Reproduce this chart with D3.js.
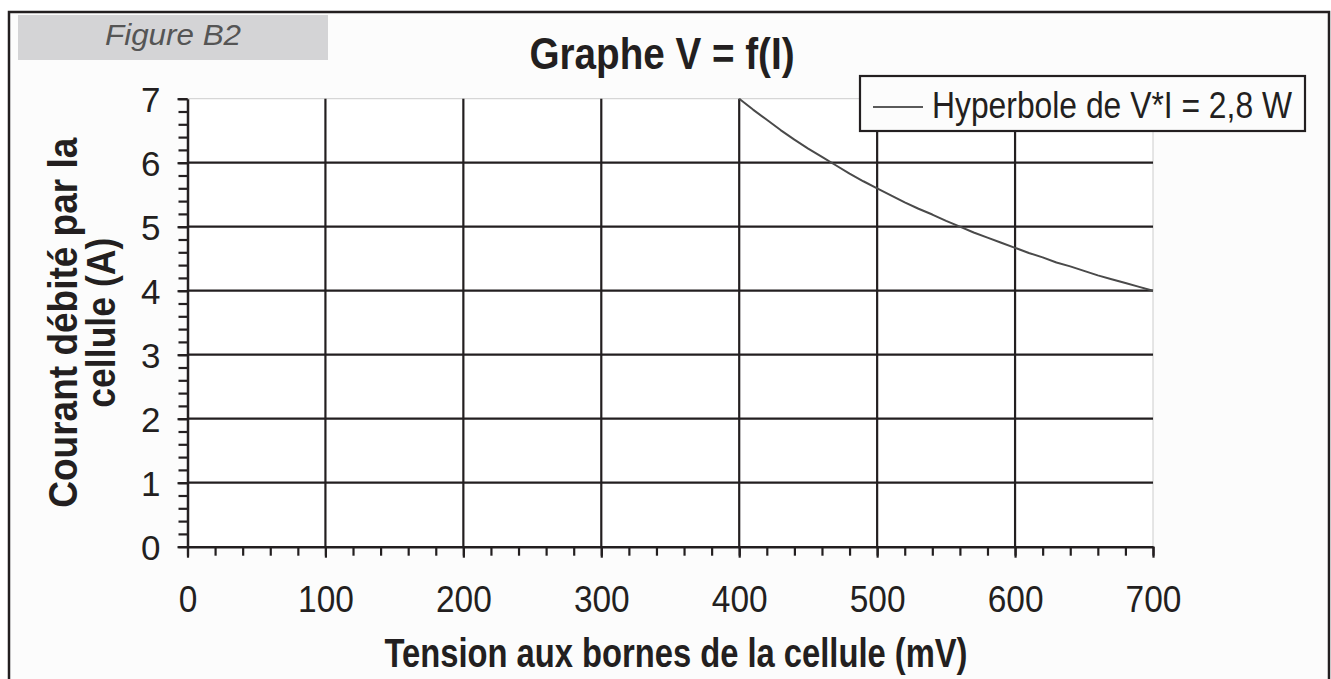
<!DOCTYPE html>
<html>
<head>
<meta charset="utf-8">
<script src="https://cdn.jsdelivr.net/npm/d3@7"></script>
<style>
  html, body { margin: 0; padding: 0; background: #ffffff; }
  svg { display: block; font-family: "Liberation Sans", Arial, Helvetica, sans-serif; }
</style>
</head>
<body>
<svg id="chart" width="1331" height="679"></svg>
<script>
// ---- data ----
const voltage_mV = [400, 410, 420, 430, 440, 450, 460, 470, 480, 490, 500,
                    510, 520, 530, 540, 550, 560, 570, 580, 590, 600,
                    610, 620, 630, 640, 650, 660, 670, 680, 690, 700];
const current_A = [7.00, 6.83, 6.67, 6.51, 6.36, 6.22, 6.09, 5.96, 5.83, 5.71, 5.60,
                   5.49, 5.38, 5.28, 5.19, 5.09, 5.00, 4.91, 4.83, 4.75, 4.67,
                   4.59, 4.52, 4.44, 4.38, 4.31, 4.24, 4.18, 4.12, 4.06, 4.00];
const xTicks = [0, 100, 200, 300, 400, 500, 600, 700];
const yTicks = [0, 1, 2, 3, 4, 5, 6, 7];
const xMinorTicks = d3.range(0, 701, 20);
const yMinorTicks = d3.range(0, 7.001, 0.2).map(v => +v.toFixed(1));
const figureLabel = "Figure B2";
const chartTitle = "Graphe V = f(I)";
const xTitle = "Tension aux bornes de la cellule (mV)";
const yTitleLines = ["Courant  débité par la", "cellule (A)"];
const seriesName = "Hyperbole de V*I = 2,8 W";

(function () {
// ---- layout ----
const svg = d3.select("#chart");
const ink = "#231f20";
const pL = 187.5, pR = 1153, pT = 98.7, pB = 546.7;

const x = d3.scaleLinear().domain([0, 700]).range([pL, pR]);
const y = d3.scaleLinear().domain([0, 7]).range([pB, pT]);

// outer frame
svg.append("rect").attr("x", 9).attr("y", 12).attr("width", 1320).attr("height", 700)
  .attr("fill", "#fcfcfc").attr("stroke", ink).attr("stroke-width", 2.5);

// figure label box
svg.append("rect").attr("x", 18).attr("y", 15).attr("width", 310).attr("height", 45)
  .attr("fill", "#d4d4d6");
svg.append("text").attr("x", 105).attr("y", 45)
  .attr("font-size", 29).attr("font-style", "italic").attr("fill", "#555555")
  .attr("textLength", 136).attr("lengthAdjust", "spacingAndGlyphs")
  .text(figureLabel);

// title
svg.append("text").attr("x", 662).attr("y", 69).attr("text-anchor", "middle")
  .attr("font-size", 44).attr("font-weight", "bold").attr("fill", ink)
  .attr("textLength", 265).attr("lengthAdjust", "spacingAndGlyphs")
  .text(chartTitle);

// plot background + light border
svg.append("rect").attr("x", pL).attr("y", pT).attr("width", pR - pL).attr("height", pB - pT)
  .attr("fill", "#ffffff").attr("stroke", "#cccccc").attr("stroke-width", 1);

// gridlines
const grid = svg.append("g");
grid.selectAll("line.h").data(yTicks.filter(d => d > 0 && d < 7)).join("line")
  .attr("class", "h")
  .attr("x1", pL).attr("x2", pR)
  .attr("y1", d => y(d)).attr("y2", d => y(d))
  .attr("stroke", ink).attr("stroke-width", 2.2);
grid.selectAll("line.v").data(xTicks.filter(d => d > 0 && d < 700)).join("line")
  .attr("class", "v")
  .attr("x1", d => x(d)).attr("x2", d => x(d))
  .attr("y1", pT).attr("y2", pB)
  .attr("stroke", ink).attr("stroke-width", 2.2);

// minor ticks
const xMinor = svg.append("g").attr("transform", `translate(0,${pB})`)
  .call(d3.axisBottom(x).tickValues(xMinorTicks).tickSize(9).tickFormat(""));
const yMinor = svg.append("g").attr("transform", `translate(${pL},0)`)
  .call(d3.axisLeft(y).tickValues(yMinorTicks).tickSize(9).tickFormat(""));

// major axes
const xAxis = svg.append("g").attr("transform", `translate(0,${pB})`)
  .call(d3.axisBottom(x).tickValues(xTicks).tickSize(11).tickSizeOuter(0).tickFormat(d3.format("d")));
const yAxis = svg.append("g").attr("transform", `translate(${pL},0)`)
  .call(d3.axisLeft(y).tickValues(yTicks).tickSize(10).tickSizeOuter(0).tickFormat(d3.format("d")));

[xMinor, yMinor, xAxis, yAxis].forEach(g => {
  g.selectAll("path.domain").attr("stroke", ink).attr("stroke-width", 2.5);
  g.selectAll(".tick line").attr("stroke", ink).attr("stroke-width", 2.2);
});
xMinor.selectAll("path.domain").remove();
yMinor.selectAll("path.domain").remove();

xAxis.selectAll(".tick text")
  .attr("y", 65).attr("dy", 0).attr("font-size", 37).attr("fill", ink)
  .attr("font-family", "'Liberation Sans', Arial, sans-serif")
  .each(function (d) {
    const s = String(d);
    d3.select(this).attr("textLength", s.length * 18.6).attr("lengthAdjust", "spacingAndGlyphs");
  });
yAxis.selectAll(".tick text")
  .attr("x", -27).attr("dy", 12.5).attr("font-size", 35).attr("fill", ink)
  .attr("font-family", "'Liberation Sans', Arial, sans-serif");

// curve
const line = d3.line().x((d, i) => x(voltage_mV[i])).y(d => y(d));
svg.append("path").datum(current_A)
  .attr("d", line).attr("fill", "none")
  .attr("stroke", "#4a4a4a").attr("stroke-width", 2).attr("stroke-linejoin", "round");

// axis titles
svg.append("text").attr("x", 676).attr("y", 667).attr("text-anchor", "middle")
  .attr("font-size", 40).attr("font-weight", "bold").attr("fill", ink)
  .attr("textLength", 583).attr("lengthAdjust", "spacingAndGlyphs")
  .text(xTitle);

const yLineX = [77, 115];
const yLineLen = [370, 170];
yTitleLines.forEach((t, i) => {
  svg.append("text")
    .attr("transform", `translate(${yLineX[i]},${(pT + pB) / 2}) rotate(-90)`)
    .attr("text-anchor", "middle")
    .attr("font-size", 41).attr("font-weight", "bold").attr("fill", ink)
    .attr("textLength", yLineLen[i]).attr("lengthAdjust", "spacingAndGlyphs")
    .text(t);
});

// legend
const lg = svg.append("g");
lg.append("rect").attr("x", 860).attr("y", 76).attr("width", 445).attr("height", 55)
  .attr("fill", "#fcfcfc").attr("stroke", ink).attr("stroke-width", 2.2);
lg.append("line").attr("x1", 873).attr("x2", 923).attr("y1", 107).attr("y2", 107)
  .attr("stroke", "#5a5a5a").attr("stroke-width", 2);
lg.append("text").attr("x", 932).attr("y", 118)
  .attr("font-size", 36).attr("fill", ink)
  .attr("textLength", 360).attr("lengthAdjust", "spacingAndGlyphs")
  .text(seriesName);
})();
</script>
</body>
</html>
